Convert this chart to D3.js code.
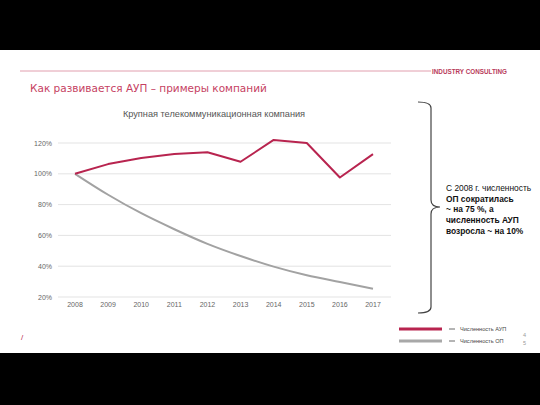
<!DOCTYPE html>
<html><head><meta charset="utf-8">
<script src="https://cdn.jsdelivr.net/npm/d3@7"></script>
<style>body{margin:0;background:#fff}svg{display:block}</style>
</head><body>
<script>
const years = ["2008","2009","2010","2011","2012","2013","2014","2015","2016","2017"];
const aup = [100,106.3,110.2,112.8,114,107.8,122,120,97.6,112.8];
const op = [100,86.4,74.4,64,54.5,46.6,39.7,34.1,29.7,25.4];
const yTicks = [20,40,60,80,100,120];
const seriesNames = ["Численность АУП","Численность ОП"];
const noteLines = ["С 2008 г. численность","ОП сократилась","~ на 75 %, а","численность АУП","возросла ~ на 10%"];

const W=540,H=405;
const svg=d3.select("body").append("svg").attr("width",W).attr("height",H);
svg.append("rect").attr("width",W).attr("height",H).attr("fill","#fff");
svg.append("rect").attr("x",0).attr("y",0).attr("width",W).attr("height",50).attr("fill","#000");
svg.append("rect").attr("x",0).attr("y",353).attr("width",W).attr("height",52).attr("fill","#000");

const F="Liberation Sans, Arial, sans-serif";
// header
svg.append("line").attr("x1",20).attr("x2",431).attr("y1",71).attr("y2",71).attr("stroke","#d9879b").attr("stroke-width",0.8);
svg.append("text").attr("x",432).attr("y",73.5).attr("font-family",F).attr("font-size",6.4).attr("font-weight","bold")
  .attr("fill","#b83a5a").attr("textLength",75).attr("lengthAdjust","spacingAndGlyphs").text("INDUSTRY CONSULTING");
svg.append("text").attr("x",30).attr("y",92).attr("font-family","DejaVu Sans, sans-serif").attr("font-size",10.5)
  .attr("fill","#c63f62").text("Как развивается АУП – примеры компаний");
svg.append("text").attr("x",214).attr("y",117).attr("text-anchor","middle").attr("font-family",F).attr("font-size",9.2)
  .attr("fill","#555").text("Крупная телекоммуникационная компания");

const x=d3.scalePoint().domain(years).range([75,373]);
const y=d3.scaleLinear().domain([20,120]).range([297,143]);

const g=svg.append("g");
g.selectAll("line.grid").data(yTicks).join("line").attr("class","grid")
  .attr("x1",58).attr("x2",391).attr("y1",d=>y(d)).attr("y2",d=>y(d)).attr("stroke","#dcdcdc").attr("stroke-width",0.8);
g.selectAll("text.yl").data(yTicks).join("text").attr("class","yl")
  .attr("x",52).attr("y",d=>y(d)+2.5).attr("text-anchor","end").attr("font-family",F).attr("font-size",7).attr("fill","#666")
  .text(d=>d+"%");
g.selectAll("text.xl").data(years).join("text").attr("class","xl")
  .attr("x",d=>x(d)).attr("y",307).attr("text-anchor","middle").attr("font-family",F).attr("font-size",7).attr("fill","#666")
  .text(d=>d);

const lineA=d3.line().x((d,i)=>x(years[i])).y(d=>y(d));
const lineO=d3.line().x((d,i)=>x(years[i])).y(d=>y(d)).curve(d3.curveMonotoneX);
g.append("path").attr("d",lineO(op)).attr("fill","none").attr("stroke","#a2a2a2").attr("stroke-width",2);
g.append("path").attr("d",lineA(aup)).attr("fill","none").attr("stroke","#b8244f").attr("stroke-width",2).attr("stroke-linejoin","round");

// brace
svg.append("path").attr("d","M418,102 Q431,102 431,108 L431,200 Q431,207 440,207 Q431,207 431,214 L431,307 Q431,313 418,313")
  .attr("fill","none").attr("stroke","#444").attr("stroke-width",1.2);

const nt=svg.append("text").attr("font-family",F).attr("font-size",8.4).attr("fill","#111");
noteLines.forEach((s,i)=>{
  nt.append("tspan").attr("x",446).attr("y",191+i*10.7).attr("font-weight",i===0?"normal":"bold").text(s);
});

// legend
const lc=["#b8244f","#a8a8a8"];
seriesNames.forEach((s,i)=>{
  const yy=329+i*12;
  svg.append("line").attr("x1",399).attr("x2",442).attr("y1",yy).attr("y2",yy).attr("stroke",lc[i]).attr("stroke-width",3);
  svg.append("line").attr("x1",449).attr("x2",455).attr("y1",yy).attr("y2",yy).attr("stroke","#444").attr("stroke-width",0.8);
  svg.append("text").attr("x",460).attr("y",yy+2).attr("font-family",F).attr("font-size",5.6).attr("fill","#444").text(s);
});
svg.append("text").attr("x",523).attr("y",337).attr("font-family",F).attr("font-size",5.5).attr("fill","#999").text("4");
svg.append("text").attr("x",523).attr("y",345).attr("font-family",F).attr("font-size",5.5).attr("fill","#999").text("5");
svg.append("text").attr("x",21).attr("y",340).attr("font-family",F).attr("font-size",8).attr("fill","#b8244f").text("/");
</script>
</body></html>
